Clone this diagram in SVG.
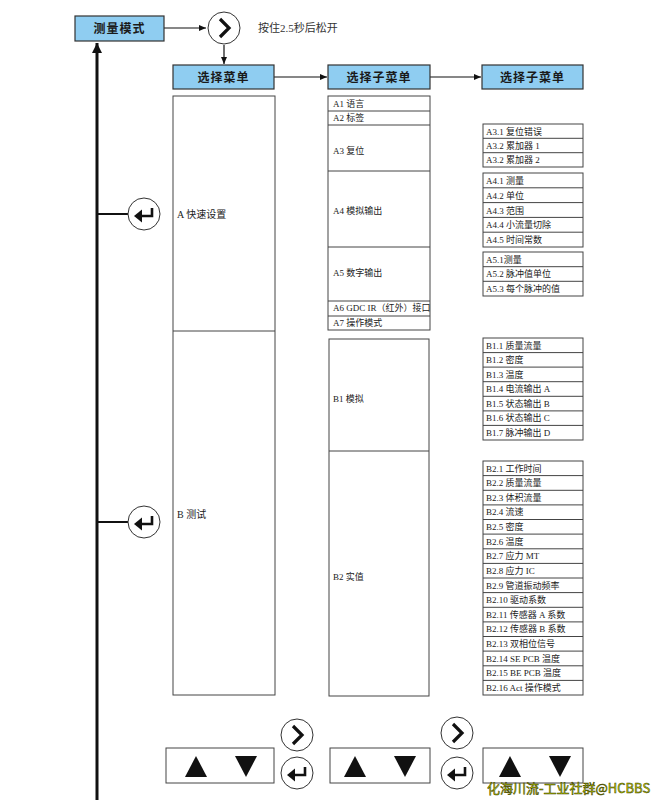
<svg xmlns="http://www.w3.org/2000/svg" width="654" height="800" viewBox="0 0 654 800">
<style>
.hdr{fill:#8fcdf1;stroke:#333;stroke-width:1.2}
.ht{font-family:"Noto Sans CJK SC",sans-serif;font-size:12px;font-weight:bold;fill:#1a1a1a;text-anchor:middle;letter-spacing:1px}
.box{fill:#fff;stroke:#444;stroke-width:1}
.t{font-family:"Liberation Serif","Noto Sans CJK SC",serif;font-size:9px;fill:#222}
.tl{font-family:"Liberation Serif","Noto Sans CJK SC",serif;font-size:10px;fill:#222}
.rl{stroke:#444;stroke-width:1}
.c{fill:#fff;stroke:#333;stroke-width:1}
.ch{fill:none;stroke:#111;stroke-width:3.2;stroke-linejoin:miter}
.en{fill:none;stroke:#111;stroke-width:2.6}
.ln{stroke:#111;stroke-width:1.2;fill:none}
.tri{fill:#111}
</style>
<defs>
<marker id="ah" markerWidth="8" markerHeight="8" refX="7" refY="4" orient="auto" markerUnits="userSpaceOnUse"><path d="M0,1 L7,4 L0,7 Z" fill="#111"/></marker>
<marker id="ahb" markerWidth="12" markerHeight="12" refX="10" refY="6" orient="auto" markerUnits="userSpaceOnUse"><path d="M0,1 L10,6 L0,11 Z" fill="#111"/></marker>
<g id="sym-next"><circle class="c" r="16"/><polyline class="ch" points="-4,-9 5,0 -4,9"/></g>
<g id="sym-enter"><circle class="c" r="16"/><polyline class="en" points="8,-6 8,2 -3,2"/><polygon fill="#111" points="-10,2 -2,-4.5 -2,8.5"/></g>
</defs>

<g id="connectors">
<line class="ln" x1="164" y1="28" x2="206" y2="28" marker-end="url(#ah)"/>
<line class="ln" x1="224" y1="45" x2="224" y2="64" marker-end="url(#ah)"/>
<line class="ln" x1="274" y1="77" x2="327" y2="77" marker-end="url(#ah)"/>
<line class="ln" x1="430" y1="77" x2="481" y2="77" marker-end="url(#ah)"/>
<line x1="97" y1="800" x2="97" y2="43" stroke="#111" stroke-width="3" marker-end="url(#ahb)"/>
<line x1="97" y1="214" x2="128" y2="214" stroke="#111" stroke-width="2"/>
<line x1="97" y1="522" x2="128" y2="522" stroke="#111" stroke-width="2"/>
</g>

<g id="n-measure"><rect class="hdr" x="75" y="16" width="89" height="25"/><text class="ht" x="119.5" y="33">测量模式</text></g>
<g id="n-next-top"><use href="#sym-next" x="224" y="28"/></g>
<g id="n-hold"><text x="258" y="32" font-family="Liberation Serif,'Noto Sans CJK SC',serif" font-size="11" fill="#333">按住2.5秒后松开</text></g>
<g id="n-menu"><rect class="hdr" x="173" y="65" width="101" height="24"/><text class="ht" x="223.5" y="81.5">选择菜单</text></g>
<g id="n-sub1"><rect class="hdr" x="328" y="65" width="102" height="24"/><text class="ht" x="379" y="81.5">选择子菜单</text></g>
<g id="n-sub2"><rect class="hdr" x="482" y="65" width="101" height="24"/><text class="ht" x="532.5" y="81.5">选择子菜单</text></g>

<g id="n-enter-a"><use href="#sym-enter" x="144" y="214"/></g>
<g id="n-enter-b"><use href="#sym-enter" x="144" y="522"/></g>

<g id="n-left">
<rect class="box" x="173" y="96" width="102" height="599"/>
<line class="rl" x1="173" y1="331" x2="275" y2="331"/>
<text class="tl" x="177" y="218">A 快速设置</text>
<text class="tl" x="177" y="518">B 测试</text>
</g>

<g id="n-mid-a">
<rect class="box" x="328" y="96" width="102" height="234"/>
<line class="rl" x1="328" y1="111" x2="430" y2="111"/>
<line class="rl" x1="328" y1="125" x2="430" y2="125"/>
<line class="rl" x1="328" y1="171" x2="430" y2="171"/>
<line class="rl" x1="328" y1="247" x2="430" y2="247"/>
<line class="rl" x1="328" y1="301" x2="430" y2="301"/>
<line class="rl" x1="328" y1="316" x2="430" y2="316"/>
<text class="t" x="333" y="107">A1 语言</text>
<text class="t" x="333" y="121">A2 标签</text>
<text class="t" x="333" y="154">A3 复位</text>
<text class="t" x="333" y="214">A4 模拟输出</text>
<text class="t" x="333" y="276">A5 数字输出</text>
<text class="t" x="333" y="311" font-size="7.5">A6 GDC IR（红外）接口</text>
<text class="t" x="333" y="326">A7 操作模式</text>
</g>

<g id="n-mid-b">
<rect class="box" x="329" y="339" width="100" height="357"/>
<line class="rl" x1="329" y1="451" x2="429" y2="451"/>
<text class="t" x="333" y="402" font-size="8">B1 模拟</text>
<text class="t" x="333" y="580" font-size="8">B2 实值</text>
</g>

<g id="n-a3">
<rect class="box" x="483" y="124" width="100" height="43"/>
<line class="rl" x1="483" y1="138.3" x2="583" y2="138.3"/>
<line class="rl" x1="483" y1="152.7" x2="583" y2="152.7"/>
<text class="t" x="486" y="134.5">A3.1 复位错误</text>
<text class="t" x="486" y="148.8">A3.2 累加器 1</text>
<text class="t" x="486" y="163.2">A3.2 累加器 2</text>
</g>

<g id="n-a4">
<rect class="box" x="483" y="173" width="100" height="74"/>
<line class="rl" x1="483" y1="187.8" x2="583" y2="187.8"/>
<line class="rl" x1="483" y1="202.6" x2="583" y2="202.6"/>
<line class="rl" x1="483" y1="217.4" x2="583" y2="217.4"/>
<line class="rl" x1="483" y1="232.2" x2="583" y2="232.2"/>
<text class="t" x="486" y="184">A4.1 测量</text>
<text class="t" x="486" y="198.8">A4.2 单位</text>
<text class="t" x="486" y="213.6">A4.3 范围</text>
<text class="t" x="486" y="228.4">A4.4 小流量切除</text>
<text class="t" x="486" y="243.2">A4.5 时间常数</text>
</g>

<g id="n-a5">
<rect class="box" x="483" y="252" width="100" height="44"/>
<line class="rl" x1="483" y1="266.7" x2="583" y2="266.7"/>
<line class="rl" x1="483" y1="281.3" x2="583" y2="281.3"/>
<text class="t" x="486" y="262.5" font-size="8">A5.1测量</text>
<text class="t" x="486" y="277.2" font-size="8">A5.2 脉冲值单位</text>
<text class="t" x="486" y="291.8" font-size="8">A5.3 每个脉冲的值</text>
</g>

<g id="n-b1">
<rect class="box" x="483" y="338" width="100" height="102"/>
<line class="rl" x1="483" y1="352.6" x2="583" y2="352.6"/>
<line class="rl" x1="483" y1="367.1" x2="583" y2="367.1"/>
<line class="rl" x1="483" y1="381.7" x2="583" y2="381.7"/>
<line class="rl" x1="483" y1="396.3" x2="583" y2="396.3"/>
<line class="rl" x1="483" y1="410.9" x2="583" y2="410.9"/>
<line class="rl" x1="483" y1="425.4" x2="583" y2="425.4"/>
<text class="t" x="486" y="348.5">B1.1 质量流量</text>
<text class="t" x="486" y="363">B1.2 密度</text>
<text class="t" x="486" y="377.6">B1.3 温度</text>
<text class="t" x="486" y="392.2">B1.4 电流输出 A</text>
<text class="t" x="486" y="406.8">B1.5 状态输出 B</text>
<text class="t" x="486" y="421.4">B1.6 状态输出 C</text>
<text class="t" x="486" y="435.9">B1.7 脉冲输出 D</text>
</g>

<g id="n-b2">
<rect class="box" x="483" y="461" width="100" height="234"/>
<g class="rl">
<line x1="483" y1="475.6" x2="583" y2="475.6"/>
<line x1="483" y1="490.3" x2="583" y2="490.3"/>
<line x1="483" y1="504.9" x2="583" y2="504.9"/>
<line x1="483" y1="519.5" x2="583" y2="519.5"/>
<line x1="483" y1="534.1" x2="583" y2="534.1"/>
<line x1="483" y1="548.8" x2="583" y2="548.8"/>
<line x1="483" y1="563.4" x2="583" y2="563.4"/>
<line x1="483" y1="578" x2="583" y2="578"/>
<line x1="483" y1="592.6" x2="583" y2="592.6"/>
<line x1="483" y1="607.3" x2="583" y2="607.3"/>
<line x1="483" y1="621.9" x2="583" y2="621.9"/>
<line x1="483" y1="636.5" x2="583" y2="636.5"/>
<line x1="483" y1="651.1" x2="583" y2="651.1"/>
<line x1="483" y1="665.8" x2="583" y2="665.8"/>
<line x1="483" y1="680.4" x2="583" y2="680.4"/>
</g>
<text class="t" x="486" y="471.5">B2.1 工作时间</text>
<text class="t" x="486" y="486.1">B2.2 质量流量</text>
<text class="t" x="486" y="500.7">B2.3 体积流量</text>
<text class="t" x="486" y="515.3">B2.4 流速</text>
<text class="t" x="486" y="530">B2.5 密度</text>
<text class="t" x="486" y="544.6">B2.6 温度</text>
<text class="t" x="486" y="559.2">B2.7 应力 MT</text>
<text class="t" x="486" y="573.8">B2.8 应力 IC</text>
<text class="t" x="486" y="588.5">B2.9 管道振动频率</text>
<text class="t" x="486" y="603.1">B2.10 驱动系数</text>
<text class="t" x="486" y="617.7">B2.11 传感器 A 系数</text>
<text class="t" x="486" y="632.3">B2.12 传感器 B 系数</text>
<text class="t" x="486" y="647">B2.13 双相位信号</text>
<text class="t" x="486" y="661.6">B2.14 SE PCB 温度</text>
<text class="t" x="486" y="676.2">B2.15 BE PCB 温度</text>
<text class="t" x="486" y="690.8">B2.16 Act 操作模式</text>
</g>

<g id="n-keys1"><rect class="box" x="166" y="748" width="108" height="35"/><polygon class="tri" points="196,756 185,777 207,777"/><polygon class="tri" points="235,756 257,756 246,777"/></g>
<g id="n-keys2"><rect class="box" x="330" y="748" width="100" height="35"/><polygon class="tri" points="355,756 344,777 366,777"/><polygon class="tri" points="394,756 416,756 405,777"/></g>
<g id="n-keys3"><rect class="box" x="483" y="748" width="100" height="35"/><polygon class="tri" points="510,756 499,777 521,777"/><polygon class="tri" points="549,756 571,756 560,777"/></g>
<g id="n-next1"><use href="#sym-next" x="297" y="735"/></g>
<g id="n-enter1"><use href="#sym-enter" x="297" y="773"/></g>
<g id="n-next2"><use href="#sym-next" x="457" y="733"/></g>
<g id="n-enter2"><use href="#sym-enter" x="457" y="773"/></g>

<g id="watermark"><text x="487" y="793" font-family="'Noto Sans CJK SC',sans-serif" font-size="13" fill="#c8e000" stroke="#3a3a00" stroke-width="0.5">化海川流-工业社群@HCBBS</text></g>
</svg>
